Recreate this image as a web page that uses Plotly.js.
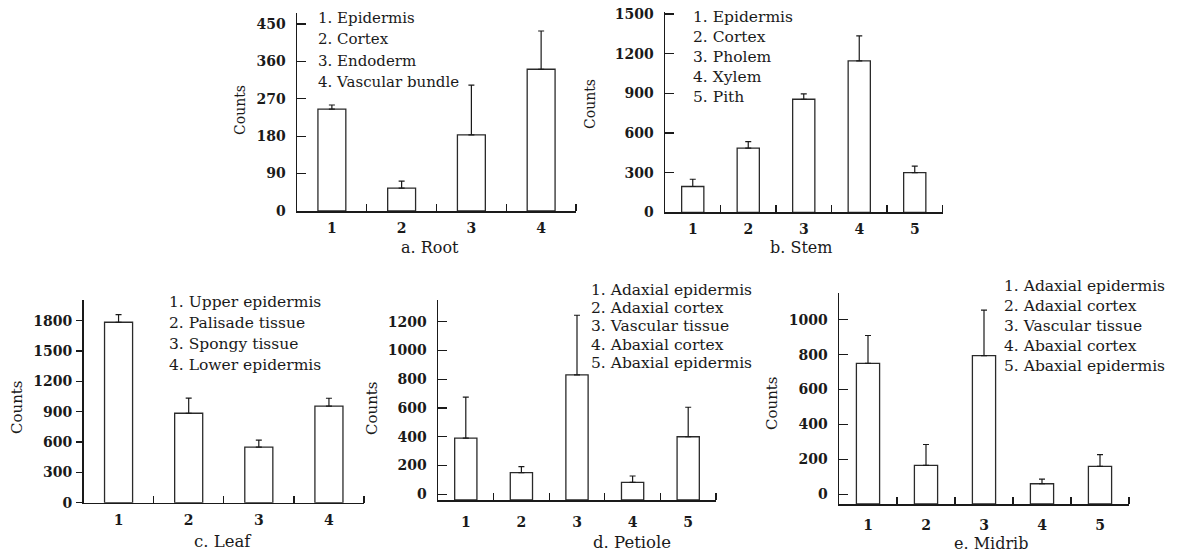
<!DOCTYPE html>
<html><head><meta charset="utf-8">
<script src="https://cdn.plot.ly/plotly-3.0.1.min.js"></script>
<style>html,body{margin:0;padding:0;background:#fff}#chart{width:1183px;height:553px}</style>
</head><body><div id="chart"></div>
<script>
// ---------- DATA ----------
// a. Root
const rootCategories = ["1", "2", "3", "4"];
const rootTissues = ["Epidermis", "Cortex", "Endoderm", "Vascular bundle"];
const rootCounts = [245, 55, 183, 341];
const rootSD = [10, 17, 120, 92];
const rootTicks = [0, 90, 180, 270, 360, 450];

// b. Stem
const stemCategories = ["1", "2", "3", "4", "5"];
const stemTissues = ["Epidermis", "Cortex", "Pholem", "Xylem", "Pith"];
const stemCounts = [195, 485, 855, 1145, 300];
const stemSD = [55, 50, 40, 190, 50];
const stemTicks = [0, 300, 600, 900, 1200, 1500];

// c. Leaf
const leafCategories = ["1", "2", "3", "4"];
const leafTissues = ["Upper epidermis", "Palisade tissue", "Spongy tissue", "Lower epidermis"];
const leafCounts = [1785, 885, 550, 955];
const leafSD = [75, 150, 68, 78];
const leafTicks = [0, 300, 600, 900, 1200, 1500, 1800];

// d. Petiole
const petioleCategories = ["1", "2", "3", "4", "5"];
const petioleTissues = ["Adaxial epidermis", "Adaxial cortex", "Vascular tissue", "Abaxial cortex", "Abaxial epidermis"];
const petioleCounts = [390, 150, 830, 83, 400];
const petioleSD = [285, 42, 415, 44, 205];
const petioleTicks = [0, 200, 400, 600, 800, 1000, 1200];

// e. Midrib
const midribCategories = ["1", "2", "3", "4", "5"];
const midribTissues = ["Adaxial epidermis", "Adaxial cortex", "Vascular tissue", "Abaxial cortex", "Abaxial epidermis"];
const midribCounts = [750, 165, 795, 60, 160];
const midribSD = [160, 120, 260, 27, 67];
const midribTicks = [0, 200, 400, 600, 800, 1000];

const panelTitles = ["a. Root", "b. Stem", "c. Leaf", "d. Petiole", "e. Midrib"];
const yTitle = "Counts";

// ---------- LAYOUT / STYLE ----------
const W = 1183, H = 553;
const FONT = "DejaVu Serif, Liberation Serif, serif";
const INK = "#1a1a1a";

const panels = [
  {cats: rootCategories, tissues: rootTissues, vals: rootCounts, sd: rootSD, ticks: rootTicks,
   left: 297, right: 576, bottom: 211, top: 12.7, yMin: 0, yMax: 477, yTickDir: "inside",
   legX: 316, legY: 18, legDy: 21.3, legSize: 15,
   titleX: 430, titleY: 247, titleSize: 16, xStand: 4,
   ytX: 240, ytY: 110, ytSize: 14},
  {cats: stemCategories, tissues: stemTissues, vals: stemCounts, sd: stemSD, ticks: stemTicks,
   left: 665, right: 942.5, bottom: 212.3, top: 12, yMin: 0, yMax: 1515, yTickDir: "inside",
   legX: 691, legY: 16.7, legDy: 20, legSize: 15.5,
   titleX: 801, titleY: 247, titleSize: 16, xStand: 3,
   ytX: 590, ytY: 104, ytSize: 14},
  {cats: leafCategories, tissues: leafTissues, vals: leafCounts, sd: leafSD, ticks: leafTicks,
   left: 83.5, right: 364, bottom: 502.7, top: 300, yMin: 0, yMax: 2005, yTickDir: "outside",
   legX: 167, legY: 301.7, legDy: 21, legSize: 15.5,
   titleX: 223, titleY: 541, titleSize: 16.5, xStand: 4,
   ytX: 17, ytY: 407, ytSize: 15},
  {cats: petioleCategories, tissues: petioleTissues, vals: petioleCounts, sd: petioleSD, ticks: petioleTicks,
   left: 438, right: 716, bottom: 500, top: 300, yMin: -40, yMax: 1351, yTickDir: "inside",
   legX: 589, legY: 290, legDy: 18.2, legSize: 15.5,
   titleX: 632, titleY: 542, titleSize: 16.5, xStand: 9,
   ytX: 372, ytY: 408, ytSize: 15},
  {cats: midribCategories, tissues: midribTissues, vals: midribCounts, sd: midribSD, ticks: midribTicks,
   left: 839, right: 1129, bottom: 504, top: 293.3, yMin: -56, yMax: 1152, yTickDir: "inside",
   legX: 1002, legY: 286, legDy: 20, legSize: 15.5,
   titleX: 991, titleY: 543.5, titleSize: 16, xStand: 8,
   ytX: 772, ytY: 403, ytSize: 15}
];

const data = [];
const layout = {
  width: W, height: H,
  margin: {l: 0, r: 0, t: 0, b: 0},
  paper_bgcolor: "#fff", plot_bgcolor: "#fff",
  showlegend: false,
  font: {family: FONT, color: INK},
  annotations: []
};

panels.forEach((p, i) => {
  const n = i === 0 ? "" : String(i + 1);
  const xs = p.cats.map(Number);
  data.push({
    type: "bar",
    x: xs,
    y: p.vals.map(v => v - p.yMin),
    base: p.yMin,
    width: 0.4,
    xaxis: "x" + n, yaxis: "y" + n,
    marker: {color: "#ffffff", line: {color: "#2a2a2a", width: 1.3}},
    error_y: {type: "data", symmetric: false, array: p.sd, arrayminus: p.sd.map(() => 0),
              color: INK, thickness: 1.2, width: 3},
    customdata: p.vals,
    hovertemplate: "%{x}: %{customdata}<extra></extra>"
  });
  layout["xaxis" + n] = {
    domain: [p.left / W, p.right / W],
    anchor: "y" + n,
    range: [0.5, p.cats.length + 0.5],
    tickmode: "array", tickvals: xs, ticktext: p.cats,
    ticks: "", showline: true, linecolor: INK, linewidth: 1.5,
    showgrid: false, zeroline: false, fixedrange: true,
    ticklabelstandoff: p.xStand,
    tickfont: {family: FONT, size: 14, color: INK, weight: "bold"},
    minor: {tickmode: "array", tickvals: xs.map(v => v + 0.5), ticks: "inside",
            ticklen: 7, tickwidth: 1.3, tickcolor: INK, showgrid: false}
  };
  layout["yaxis" + n] = {
    domain: [1 - p.bottom / H, 1 - p.top / H],
    anchor: "x" + n,
    range: [p.yMin, p.yMax],
    tickmode: "array", tickvals: p.ticks,
    ticks: p.yTickDir, ticklen: p.yTickDir === "inside" ? 9 : 6, tickwidth: 1.3, tickcolor: INK,
    showline: true, linecolor: INK, linewidth: 1.5,
    showgrid: false, zeroline: false, fixedrange: true,
    ticklabelstandoff: p.yTickDir === "inside" ? 7 : 1,
    tickfont: {family: FONT, size: 14, color: INK, weight: "bold"}
  };
  // numbered tissue list
  p.tissues.forEach((t, k) => {
    layout.annotations.push({
      xref: "paper", yref: "paper",
      x: p.legX / W, y: 1 - (p.legY + k * p.legDy) / H,
      xanchor: "left", yanchor: "middle", showarrow: false,
      text: (k + 1) + ". " + t,
      font: {family: FONT, size: p.legSize, color: INK}
    });
  });
  // panel caption (x-axis title)
  layout.annotations.push({
    xref: "paper", yref: "paper",
    x: p.titleX / W, y: 1 - p.titleY / H,
    xanchor: "center", yanchor: "middle", showarrow: false,
    text: panelTitles[i],
    font: {family: FONT, size: p.titleSize, color: INK}
  });
  // y-axis title
  layout.annotations.push({
    xref: "paper", yref: "paper",
    x: p.ytX / W, y: 1 - p.ytY / H,
    xanchor: "center", yanchor: "middle", showarrow: false,
    textangle: -90,
    text: yTitle,
    font: {family: FONT, size: p.ytSize, color: INK}
  });
});

Plotly.newPlot("chart", data, layout, {displayModeBar: false, staticPlot: true});
</script>
</body></html>
